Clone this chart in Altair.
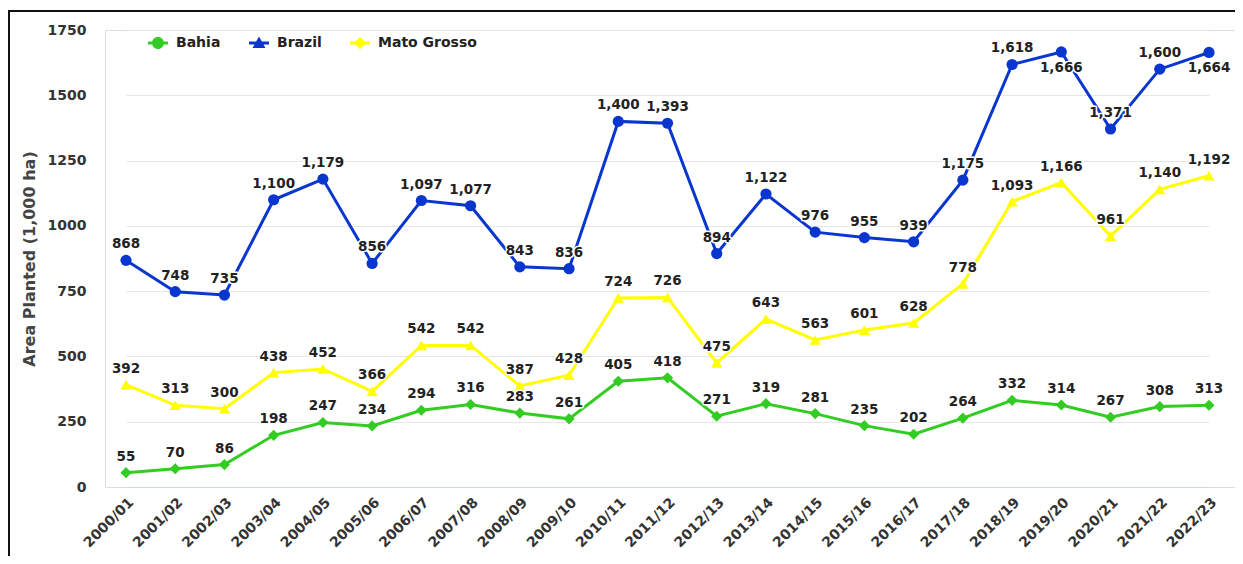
import altair as alt
import pandas as pd

seasons = ["2000/01", "2001/02", "2002/03", "2003/04", "2004/05", "2005/06", "2006/07",
           "2007/08", "2008/09", "2009/10", "2010/11", "2011/12", "2012/13", "2013/14",
           "2014/15", "2015/16", "2016/17", "2017/18", "2018/19", "2019/20", "2020/21",
           "2021/22", "2022/23"]
bahia = [55, 70, 86, 198, 247, 234, 294, 316, 283, 261, 405, 418, 271, 319, 281, 235,
         202, 264, 332, 314, 267, 308, 313]
brazil = [868, 748, 735, 1100, 1179, 856, 1097, 1077, 843, 836, 1400, 1393, 894, 1122,
          976, 955, 939, 1175, 1618, 1666, 1371, 1600, 1664]
mato_grosso = [392, 313, 300, 438, 452, 366, 542, 542, 387, 428, 724, 726, 475, 643,
               563, 601, 628, 778, 1093, 1166, 961, 1140, 1192]
series_names = ["Bahia", "Brazil", "Mato Grosso"]
y_ticks = [0, 250, 500, 750, 1000, 1250, 1500, 1750]

rows = []
for name, vals in zip(series_names, [bahia, brazil, mato_grosso]):
    for s, v in zip(seasons, vals):
        rows.append({"season": s, "series": name, "value": v})
df = pd.DataFrame(rows)

colors = ["#33cc22", "#0a36d0", "#ffff00"]
FONT = "DejaVu Sans"

color_scale = alt.Scale(domain=series_names, range=colors)
x_enc = alt.X("season:O", sort=seasons,
              scale=alt.Scale(type="point", range=[21, 1104], padding=0),
              axis=alt.Axis(title=None, labelAngle=-45, labelFont=FONT, labelFontSize=14,
                            labelFontWeight="bold", labelColor="#333333", ticks=False,
                            labelPadding=8, domainColor="#ccd6eb", domainWidth=1,
                            grid=False, labelOverlap=False))
y_enc = alt.Y("value:Q", scale=alt.Scale(domain=[0, 1750], nice=False),
              axis=alt.Axis(title="Area Planted (1,000 ha)", values=y_ticks, format="d",
                            labelFont=FONT, labelFontSize=14, labelFontWeight="bold",
                            labelColor="#333333", ticks=False, tickSize=0, domain=False,
                            labelPadding=19, gridColor="#e6e6e6", titleFont=FONT,
                            titleFontSize=16, titleFontWeight="bold", titleColor="#444444",
                            titlePadding=10))

base = alt.Chart(df)

lines = base.mark_line(strokeWidth=3).encode(
    x=x_enc, y=y_enc,
    color=alt.Color("series:N", scale=color_scale, legend=None),
)

points = base.mark_point(filled=True, size=125, opacity=1).encode(
    x=x_enc, y=y_enc,
    color=alt.Color("series:N", scale=color_scale, legend=None),
    shape=alt.Shape("series:N", scale=alt.Scale(domain=series_names,
                                                  range=["diamond", "circle", "triangle-up"]),
                    legend=None),
)

leg_line = "M-1,-0.15L1,-0.15L1,0.15L-1,0.15Z "
legend_shapes = [
    leg_line + "M0,-0.6A0.6,0.6 0 1 1 0,0.6A0.6,0.6 0 1 1 0,-0.6Z",
    leg_line + "M0,-0.65L0.65,0.5L-0.65,0.5Z",
    leg_line + "M0,-0.62L0.62,0L0,0.62L-0.62,0Z",
]
legend_props = dict(title=None, orient="none", legendX=43, legendY=3,
                    direction="horizontal", symbolSize=400,
                    labelFont=FONT, labelFontSize=14,
                    labelFontWeight="bold", labelColor="#222222",
                    labelOffset=8, columnPadding=28, padding=0,
                    symbolStrokeWidth=0)
legend_layer = base.transform_filter("false").mark_point(filled=True, opacity=1).encode(
    x=x_enc, y=y_enc,
    color=alt.Color("series:N", scale=color_scale, legend=alt.Legend(**legend_props)),
    shape=alt.Shape("series:N", scale=alt.Scale(domain=series_names, range=legend_shapes),
                    legend=alt.Legend(**legend_props)),
)


def label_layer(cond, baseline, dy, halo):
    props = dict(font=FONT, fontSize=13.5, fontWeight="bold", baseline=baseline, dy=dy,
                 align="center")
    if halo:
        props.update(stroke="white", strokeWidth=3, strokeJoin="round", color="white")
    else:
        props.update(color="#222222")
    return base.transform_filter(cond).mark_text(**props).encode(
        x=x_enc, y=y_enc, text=alt.Text("value:Q", format=",")
    )


above = "datum.value <= 1650"
below = "datum.value > 1650"
labels = [
    label_layer(above, "bottom", -9, True),
    label_layer(below, "top", 9, True),
    label_layer(above, "bottom", -9, False),
    label_layer(below, "top", 9, False),
]

border = alt.Chart(alt.Data(values=[{"k": 1}])).mark_rect(
    fillOpacity=0, stroke="#111111", strokeWidth=2
).encode(x=alt.value(-96), x2=alt.value(1140), y=alt.value(-19), y2=alt.value(620))

chart = alt.layer(lines, points, legend_layer, *labels, border).resolve_scale(
    shape="independent", color="independent"
).properties(
    width=1130, height=457,
    autosize=alt.AutoSizeParams(type="none"),
    padding={"left": 97, "top": 22, "right": 0, "bottom": 69},
).configure_view(stroke=None).configure(background="white")

chart.save("out.html", embed_options={"renderer": "svg", "actions": False})
